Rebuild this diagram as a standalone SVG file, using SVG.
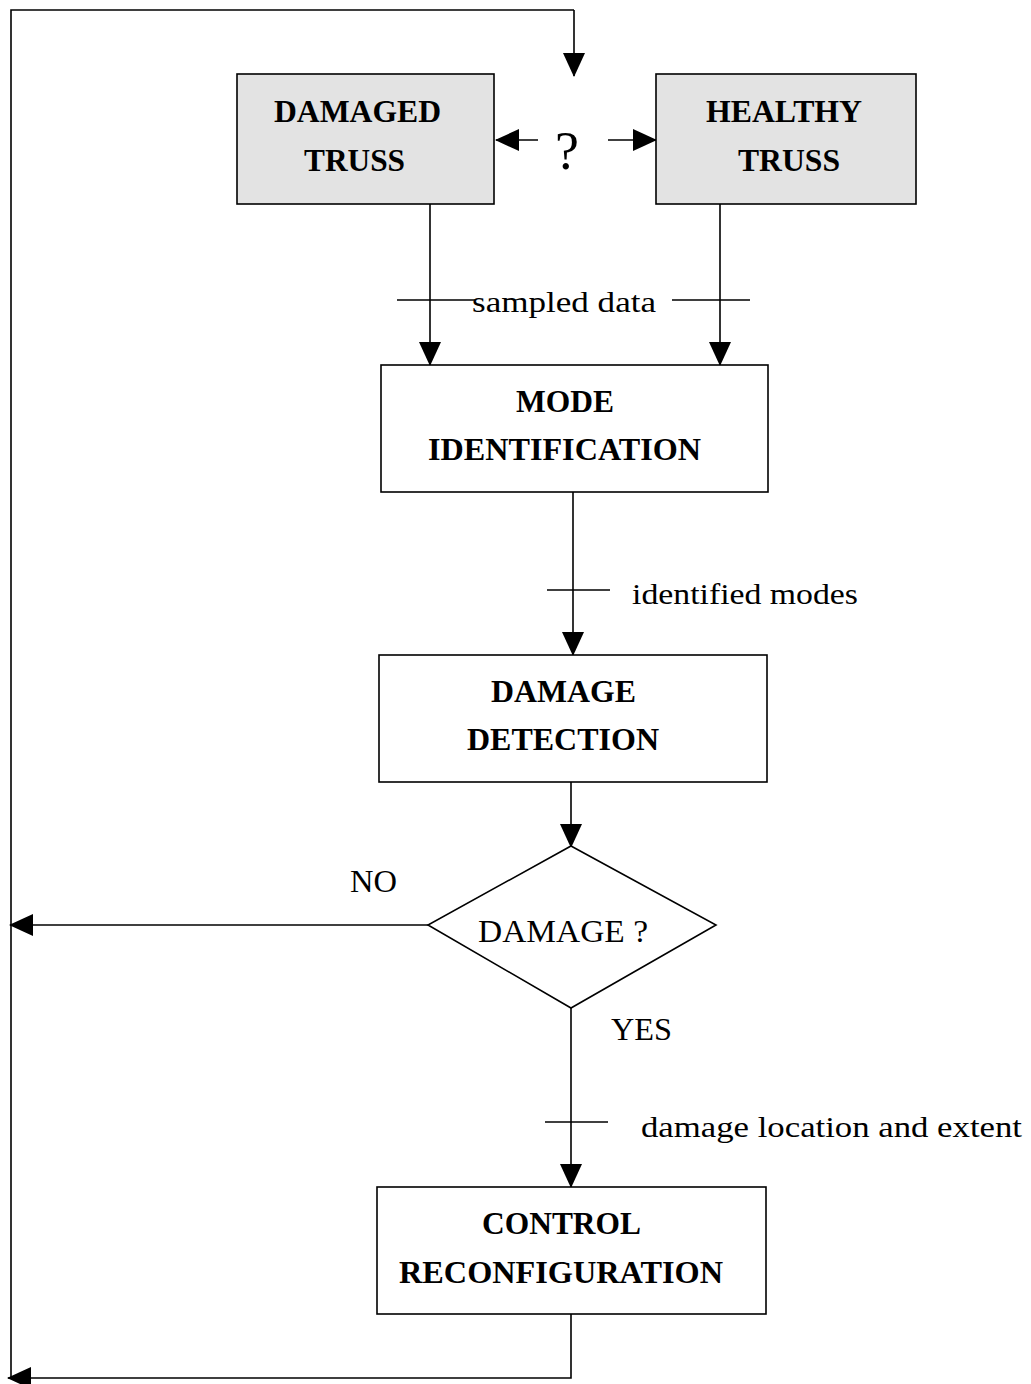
<svg xmlns="http://www.w3.org/2000/svg" width="1031" height="1384" viewBox="0 0 1031 1384">
  <defs>
    <marker id="arrow" markerUnits="userSpaceOnUse" markerWidth="24" markerHeight="24" viewBox="0 0 24 24" refX="23" refY="12" orient="auto">
      <path d="M0,1 L24,12 L0,23 Z" fill="#000"/>
    </marker>
  </defs>
  <style>
    .box { fill: #fff; stroke: #000; stroke-width: 1.6; }
    .shaded { fill: #e3e3e3; stroke: #000; stroke-width: 1.6; }
    .line { fill: none; stroke: #000; stroke-width: 1.6; }
    .title { font-family: "Liberation Serif", serif; font-weight: bold; font-size: 32px; fill: #000; }
    .label { font-family: "Liberation Serif", serif; font-size: 31px; fill: #000; }
    .note { font-family: "Liberation Serif", serif; font-size: 30px; fill: #000; }
    .mark { font-family: "Liberation Serif", serif; font-size: 54px; fill: #000; }
  </style>
  <rect width="1031" height="1384" fill="#fff"/>

  <g id="connectors">
    <!-- feedback loop into the top -->
    <path class="line" d="M574,10 L11,10 L11,1378" />
    <path class="line" d="M574,10 L574,76" marker-end="url(#arrow)"/>
    <!-- question mark to both trusses -->
    <path class="line" d="M538,140 L496,140" marker-end="url(#arrow)"/>
    <path class="line" d="M608,140 L656,140" marker-end="url(#arrow)"/>
    <!-- sampled data -->
    <path class="line" d="M430,204 L430,365" marker-end="url(#arrow)"/>
    <path class="line" d="M720,204 L720,365" marker-end="url(#arrow)"/>
    <path class="line" d="M397,300 L475,300 M672,300 L750,300"/>
    <!-- identified modes -->
    <path class="line" d="M573,492 L573,655" marker-end="url(#arrow)"/>
    <path class="line" d="M547,590 L610,590"/>
    <!-- to decision -->
    <path class="line" d="M571,782 L571,847" marker-end="url(#arrow)"/>
    <!-- NO branch -->
    <path class="line" d="M428,925 L10,925" marker-end="url(#arrow)"/>
    <!-- YES branch -->
    <path class="line" d="M571,1008 L571,1187" marker-end="url(#arrow)"/>
    <path class="line" d="M545,1122 L608,1122"/>
    <!-- back to the loop -->
    <path class="line" d="M571,1314 L571,1378 L8,1378" marker-end="url(#arrow)"/>
  </g>

  <g id="damaged-truss">
    <rect class="shaded" x="237" y="74" width="257" height="130"/>
    <text class="title" x="274" y="122" textLength="167" lengthAdjust="spacingAndGlyphs">DAMAGED</text>
    <text class="title" x="304" y="171" textLength="101" lengthAdjust="spacingAndGlyphs">TRUSS</text>
  </g>

  <g id="question">
    <text class="mark" x="567" y="169" text-anchor="middle">?</text>
  </g>

  <g id="healthy-truss">
    <rect class="shaded" x="656" y="74" width="260" height="130"/>
    <text class="title" x="706" y="122" textLength="156" lengthAdjust="spacingAndGlyphs">HEALTHY</text>
    <text class="title" x="738" y="171" textLength="102" lengthAdjust="spacingAndGlyphs">TRUSS</text>
  </g>

  <g id="sampled-data-label">
    <text class="note" x="472" y="312" textLength="184" lengthAdjust="spacingAndGlyphs">sampled data</text>
  </g>

  <g id="mode-identification">
    <rect class="box" x="381" y="365" width="387" height="127"/>
    <text class="title" x="516" y="412" textLength="98" lengthAdjust="spacingAndGlyphs">MODE</text>
    <text class="title" x="428" y="460" textLength="273" lengthAdjust="spacingAndGlyphs">IDENTIFICATION</text>
  </g>

  <g id="identified-modes-label">
    <text class="note" x="632" y="604" textLength="226" lengthAdjust="spacingAndGlyphs">identified modes</text>
  </g>

  <g id="damage-detection">
    <rect class="box" x="379" y="655" width="388" height="127"/>
    <text class="title" x="491" y="702" textLength="145" lengthAdjust="spacingAndGlyphs">DAMAGE</text>
    <text class="title" x="467" y="750" textLength="192" lengthAdjust="spacingAndGlyphs">DETECTION</text>
  </g>

  <g id="damage-decision">
    <polygon class="box" points="571,846 716,925 571,1008 428,925"/>
    <text class="label" x="478" y="942" textLength="170" lengthAdjust="spacingAndGlyphs">DAMAGE ?</text>
  </g>

  <g id="branch-labels">
    <text class="label" x="350" y="892" textLength="47" lengthAdjust="spacingAndGlyphs">NO</text>
    <text class="label" x="611" y="1040" textLength="61" lengthAdjust="spacingAndGlyphs">YES</text>
  </g>

  <g id="damage-location-label">
    <text class="note" x="641" y="1137" textLength="381" lengthAdjust="spacingAndGlyphs">damage location and extent</text>
  </g>

  <g id="control-reconfiguration">
    <rect class="box" x="377" y="1187" width="389" height="127"/>
    <text class="title" x="482" y="1234" textLength="159" lengthAdjust="spacingAndGlyphs">CONTROL</text>
    <text class="title" x="399" y="1283" textLength="324" lengthAdjust="spacingAndGlyphs">RECONFIGURATION</text>
  </g>
</svg>
